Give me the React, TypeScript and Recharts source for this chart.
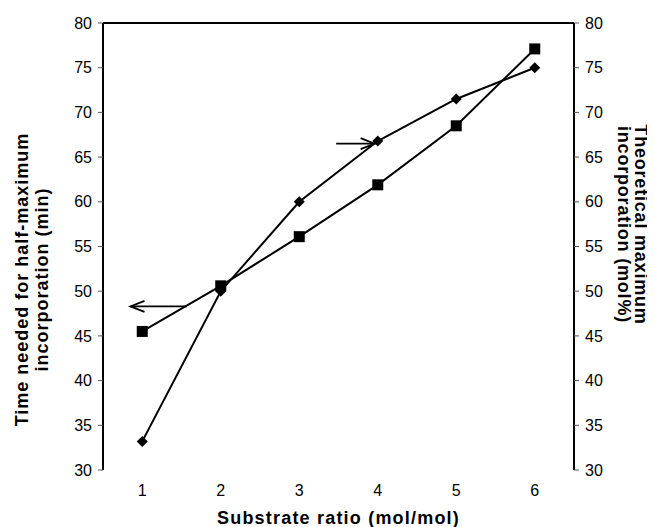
import React from "react";
import {
  LineChart,
  Line,
  XAxis,
  YAxis,
  ReferenceLine,
} from "recharts";

const ratios = [1, 2, 3, 4, 5, 6];
const halfMaxTime = [45.5, 50.6, 56.1, 61.9, 68.5, 77.1];
const theoreticalMax = [33.2, 50.0, 60.0, 66.8, 71.5, 75.0];
const yTicks = [30, 35, 40, 45, 50, 55, 60, 65, 70, 75, 80];
const boundaryTicks = [0.5, 1.5, 2.5, 3.5, 4.5, 5.5, 6.5];
const leftArrow = [
  { x: 0.85, y: 48.3 },
  { x: 1.57, y: 48.3 },
];
const rightArrow = [
  { x: 3.47, y: 66.5 },
  { x: 3.96, y: 66.5 },
];

const data = ratios.map((r, i) => ({
  ratio: r,
  time: halfMaxTime[i],
  theo: theoreticalMax[i],
}));

const FONT = "'Liberation Sans', Arial, Helvetica, sans-serif";

const SquareDot = (props: any) => {
  const { cx, cy, index } = props;
  if (cx == null || cy == null) return null;
  return <rect key={`sq-${index}`} x={cx - 5.5} y={cy - 5.5} width={11} height={11} fill="#000" />;
};

const DiamondDot = (props: any) => {
  const { cx, cy, index } = props;
  if (cx == null || cy == null) return null;
  return (
    <path
      key={`dm-${index}`}
      d={`M${cx - 5.5},${cy} L${cx},${cy - 5.5} L${cx + 5.5},${cy} L${cx},${cy + 5.5} Z`}
      fill="#000"
    />
  );
};

const arrowShape = (headAtStart: boolean) => (props: any) => {
  const { x1, y1, x2, y2 } = props;
  if (x1 == null) return null;
  const tipX = headAtStart ? x1 : x2;
  const tipY = headAtStart ? y1 : y2;
  const dir = headAtStart ? 1 : -1;
  return (
    <g>
      <line x1={x1} y1={y1} x2={x2} y2={y2} stroke="#000" strokeWidth={1.8} />
      <path
        d={`M${tipX + dir * 14},${tipY - 5.5} L${tipX},${tipY} L${tipX + dir * 14},${tipY + 5.5}`}
        fill="none"
        stroke="#000"
        strokeWidth={1.8}
      />
    </g>
  );
};

const LeftLabel = (props: any) => {
  const { viewBox } = props;
  const cy = viewBox.y + viewBox.height / 2 + 33;
  const x1 = viewBox.x + 14;
  const x2 = viewBox.x + 34;
  return (
    <g fontFamily={FONT} fontWeight="bold" fontSize={18} fill="#000" letterSpacing={1}>
      <text x={x1} y={cy} textAnchor="middle" dominantBaseline="central" transform={`rotate(-90 ${x1} ${cy})`}>
        Time needed for half-maximum
      </text>
      <text x={x2} y={cy} textAnchor="middle" dominantBaseline="central" transform={`rotate(-90 ${x2} ${cy})`}>
        incorporation (min)
      </text>
    </g>
  );
};

const RightLabel = (props: any) => {
  const { viewBox } = props;
  const cy = viewBox.y + viewBox.height / 2 - 22;
  const x1 = viewBox.x + 67;
  const x2 = viewBox.x + 50;
  return (
    <g fontFamily={FONT} fontWeight="bold" fontSize={18} fill="#000" letterSpacing={0.8}>
      <text x={x1} y={cy} textAnchor="middle" dominantBaseline="central" transform={`rotate(90 ${x1} ${cy})`}>
        Theoretical maximum
      </text>
      <text x={x2} y={cy} textAnchor="middle" dominantBaseline="central" transform={`rotate(90 ${x2} ${cy})`}>
        incorporation (mol%)
      </text>
    </g>
  );
};

const BottomLabel = (props: any) => {
  const { viewBox } = props;
  const cx = viewBox.x + viewBox.width / 2;
  return (
    <text
      x={cx}
      y={viewBox.y + 54}
      textAnchor="middle"
      fontFamily={FONT}
      fontWeight="bold"
      fontSize={18}
      letterSpacing={1.2}
      fill="#000"
    >
      Substrate ratio (mol/mol)
    </text>
  );
};

const tickStyle = { fill: "#000", fontSize: 16, fontFamily: FONT };

export default function App() {
  return (
    <LineChart
      width={647}
      height={519}
      data={data}
      margin={{ top: 15, right: 0, bottom: 0, left: 0 }}
      style={{ background: "#fff" }}
    >
      <XAxis
        xAxisId="b"
        dataKey="ratio"
        type="number"
        domain={[0.5, 6.5]}
        ticks={boundaryTicks}
        tick={false}
        tickSize={5}
        height={0}
        axisLine={{ stroke: "#000", strokeWidth: 2 }}
        tickLine={{ stroke: "#555", strokeWidth: 1 }}
      />
      <XAxis
        xAxisId="main"
        dataKey="ratio"
        type="number"
        domain={[0.5, 6.5]}
        ticks={ratios}
        interval={0}
        height={57}
        axisLine={false}
        tickLine={false}
        tickSize={0}
        tickMargin={15}
        tick={tickStyle}
        label={<BottomLabel />}
      />
      <YAxis
        yAxisId="left"
        orientation="left"
        width={95}
        domain={[30, 80]}
        ticks={yTicks}
        interval={0}
        tick={tickStyle}
        tickSize={5}
        tickMargin={6}
        axisLine={{ stroke: "#000", strokeWidth: 2 }}
        tickLine={{ stroke: "#555", strokeWidth: 1 }}
        label={<LeftLabel />}
      />
      <YAxis
        yAxisId="right"
        orientation="right"
        width={81}
        domain={[30, 80]}
        ticks={yTicks}
        interval={0}
        tick={tickStyle}
        tickSize={5}
        tickMargin={6}
        axisLine={{ stroke: "#000", strokeWidth: 2 }}
        tickLine={{ stroke: "#555", strokeWidth: 1 }}
        label={<RightLabel />}
      />
      <ReferenceLine yAxisId="left" xAxisId="main" y={80} stroke="#000" strokeWidth={2} />
      <Line
        xAxisId="main"
        yAxisId="left"
        dataKey="time"
        stroke="#000"
        strokeWidth={2}
        dot={SquareDot}
        isAnimationActive={false}
      />
      <Line
        xAxisId="main"
        yAxisId="right"
        dataKey="theo"
        stroke="#000"
        strokeWidth={2}
        dot={DiamondDot}
        isAnimationActive={false}
      />
      <ReferenceLine
        xAxisId="main"
        yAxisId="left"
        segment={leftArrow}
        shape={arrowShape(true)}
      />
      <ReferenceLine
        xAxisId="main"
        yAxisId="left"
        segment={rightArrow}
        shape={arrowShape(false)}
      />
    </LineChart>
  );
}
